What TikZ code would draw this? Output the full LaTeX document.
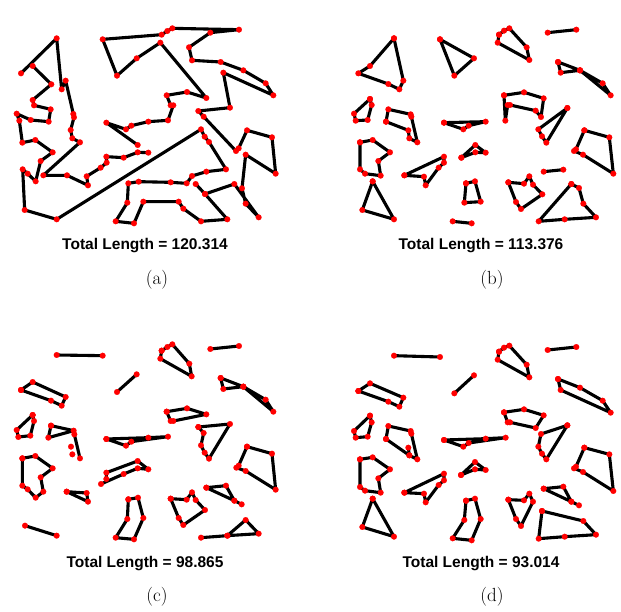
\documentclass[tikz,border=0pt]{standalone}
\usepackage{fontspec}
\newfontfamily\lsans{Liberation Sans}
\newcommand\tourline[1]{\draw[edge] plot coordinates {#1};}
\newcommand\tourdots[1]{\draw[dots] plot coordinates {#1};}
\newcommand\dataA[1]{%
#1{(33,160) (140,55) (155,208) (167,182) (190,282) (192,292) (182,330) (187,355) (210,367) (100,466) (171,466) (234,496) (230,469) (272,443) (290,428) (289,410) (341,413) (383,397) (415,398)}%
#1{(68,138) (124,193) (68,240) (72,256) (122,268) (116,305) (62,300) (20,281) (28,302) (37,368) (76,360) (128,397) (92,423) (77,484) (53,461) (38,448) (44,570) (140,598) (573,328) (584,350) (597,366) (648,448) (589,455) (546,468) (530,490) (482,487) (386,485) (355,490) (352,548) (317,604) (372,610) (400,545) (506,545) (520,566) (573,604) (652,598) (585,522) (673,492) (746,592) (707,551) (696,505) (707,404) (797,461) (786,352) (711,331) (686,385) (678,393) (581,290) (565,273) (660,263) (640,158) (790,226) (767,190) (700,151) (632,126) (546,121) (537,82) (601,38) (687,29) (487,25) (472,33) (455,44) (278,58) (321,167) (380,115) (451,68) (589,234) (531,216) (470,226) (482,256) (490,256) (474,301) (415,305) (364,317) (348,328) (289,308) (383,375)}%
#1{(557,492) (585,522)}%
}
\newcommand\dataB[1]{%
#1{(162,55) (90,138) (55,160) (145,192) (178,208) (190,182) (162,55)}%
#1{(300,58) (402,115) (343,167) (300,58)}%
#1{(90,237) (42,281) (47,302) (83,300) (95,255) (90,237)}%
#1{(138,305) (145,268) (212,283) (214,290) (232,367) (208,355) (205,331) (138,305)}%
#1{(60,367) (98,360) (150,397) (115,423) (122,467) (75,461) (60,448) (60,367)}%
#1{(98,484) (67,570) (162,598) (98,484)}%
#1{(312,308) (370,328) (386,317) (437,305) (312,308)}%
#1{(193,466) (312,410) (312,428) (296,443) (257,496) (252,470) (193,466)}%
#1{(364,413) (406,375) (437,398) (406,397) (364,413)}%
#1{(477,44) (492,32) (508,25) (560,82) (568,120) (473,68) (477,44)}%
#1{(623,38) (709,29)}%
#1{(654,126) (662,158) (720,151) (654,126)}%
#1{(720,151) (788,190) (812,226) (720,151)}%
#1{(492,226) (552,217) (611,235) (603,291) (587,272) (510,255) (503,255) (496,302) (492,226)}%
#1{(682,264) (595,328) (606,349) (619,368) (682,264)}%
#1{(733,331) (808,352) (820,461) (729,404) (702,393) (708,388) (733,331)}%
#1{(611,455) (670,449)}%
#1{(505,487) (552,491) (568,469) (579,494) (607,523) (543,567) (528,546) (505,487)}%
#1{(694,492) (717,504) (730,551) (768,592) (674,598) (596,604) (694,492)}%
#1{(378,490) (405,484) (422,545) (373,548) (378,490)}%
#1{(338,604) (395,610)}%
}
\newcommand\dataC[1]{%
#1{(140,60) (278,62)}%
#1{(380,118) (321,171)}%
#1{(33,165) (68,141) (167,186) (155,212) (123,197) (33,165)}%
#1{(68,240) (20,285) (25,306) (61,302) (72,258) (68,240)}%
#1{(123,272) (191,287) (115,308) (123,272)}%
#1{(193,298) (210,370)}%
#1{(183,335)}%
#1{(187,358)}%
#1{(37,370) (76,363) (128,400) (92,427) (100,470) (77,488) (53,463) (37,452) (37,370)}%
#1{(289,312) (348,332) (364,320) (474,305) (415,308) (289,312)}%
#1{(289,432) (289,413) (383,378) (415,403) (383,400) (341,417) (273,447)}%
#1{(170,470) (230,474) (234,500) (170,470)}%
#1{(355,493) (384,488) (400,549) (372,613) (317,608) (352,552) (355,493)}%
#1{(45,572) (140,602)}%
#1{(455,47) (472,36) (487,28) (538,86) (545,124) (451,71) (455,47)}%
#1{(601,42) (687,33)}%
#1{(632,129) (640,162) (700,155) (632,129)}%
#1{(700,155) (767,194) (790,230) (700,155)}%
#1{(470,230) (531,220) (589,238) (490,258) (482,258) (470,230)}%
#1{(565,276) (660,267) (597,371) (584,353) (573,331) (581,294) (565,276)}%
#1{(711,335) (786,356) (797,464) (707,408) (679,398) (686,392) (711,335)}%
#1{(589,458) (648,452) (673,497) (589,458)}%
#1{(673,497) (695,508)}%
#1{(482,491) (530,494) (546,472) (557,495) (585,525) (520,570) (506,549) (482,491)}%
#1{(573,608) (652,602) (746,596) (707,555) (652,602)}%
}
\newcommand\dataD[1]{%
#1{(162,62) (300,66)}%
#1{(402,121) (343,175)}%
#1{(55,168) (90,145) (190,188) (178,215) (145,200) (55,168)}%
#1{(90,242) (95,262) (83,305) (47,308) (42,288) (90,242)}%
#1{(138,312) (145,273) (212,288) (214,296) (232,373) (208,361) (138,312)}%
#1{(205,338) (208,361)}%
#1{(60,373) (98,367) (150,403) (115,430) (122,473) (75,467) (60,456) (60,373)}%
#1{(98,491) (67,576) (162,605) (98,491)}%
#1{(312,315) (370,335) (386,324) (497,308) (437,311) (312,315)}%
#1{(193,473) (312,416) (312,436) (296,450) (257,502) (252,476) (193,473)}%
#1{(363,420) (405,381) (437,405) (405,403) (363,420)}%
#1{(378,497) (405,491) (422,552) (395,616) (338,610) (373,555) (378,497)}%
#1{(477,50) (492,38) (508,32) (560,89) (568,127) (473,74) (477,50)}%
#1{(623,45) (709,36)}%
#1{(654,132) (720,158) (788,197) (812,233) (662,165) (654,132)}%
#1{(492,232) (552,223) (611,241) (587,279) (510,262) (503,262) (492,232)}%
#1{(682,271) (603,297) (595,335) (606,356) (619,373) (682,271)}%
#1{(733,338) (808,358) (820,468) (729,411) (702,400) (708,395) (733,338)}%
#1{(611,461) (670,455) (694,500) (611,461)}%
#1{(694,500) (717,511)}%
#1{(505,494) (552,496) (568,476) (579,500) (543,573) (528,552) (505,494)}%
#1{(606,528) (730,558) (768,599) (674,605) (596,611) (606,528)}%
}
\begin{document}
\begin{tikzpicture}[x=1pt,y=-1pt,
  edge/.style={line width=3.1pt,line cap=round,line join=round,draw=black},
  dots/.style={only marks,mark=*,mark size=2.9pt,mark options={draw=red,fill=red,line width=0.1pt}},
  zoomunits/.style={x=0.333333pt,y=-0.333333pt},
  total/.style={font=\lsans\bfseries\fontsize{15.5}{18}\selectfont,anchor=base,inner sep=0pt},
  sublabel/.style={font=\fontsize{19}{21}\selectfont,inner sep=0pt}]
\fill[white] (0,0) rectangle (621,612);
\useasboundingbox (0,0) rectangle (621,612);
\begin{scope}[shift={(10pt,-20pt)},zoomunits]
  \dataA\tourline \dataA\tourdots
\end{scope}
\begin{scope}[shift={(340pt,-20pt)},zoomunits]
  \dataB\tourline \dataB\tourdots
\end{scope}
\begin{scope}[shift={(10pt,-335pt)},zoomunits]
  \dataC\tourline \dataC\tourdots
\end{scope}
\begin{scope}[shift={(340pt,-335pt)},zoomunits]
  \dataD\tourline \dataD\tourdots
\end{scope}
\node[total] (ta) at (145,250) {Total Length = 120.314};
\node[total] (tb) at (481,250) {Total Length = 113.376};
\node[total] (tc) at (145,567) {Total Length = 98.865};
\node[total] (td) at (481,567) {Total Length = 93.014};
\node[sublabel] (la) at (157,280) {(a)};
\node[sublabel] (lb) at (492,280) {(b)};
\node[sublabel] (lc) at (157,597) {(c)};
\node[sublabel] (ld) at (492,597) {(d)};
\end{tikzpicture}
\end{document}
